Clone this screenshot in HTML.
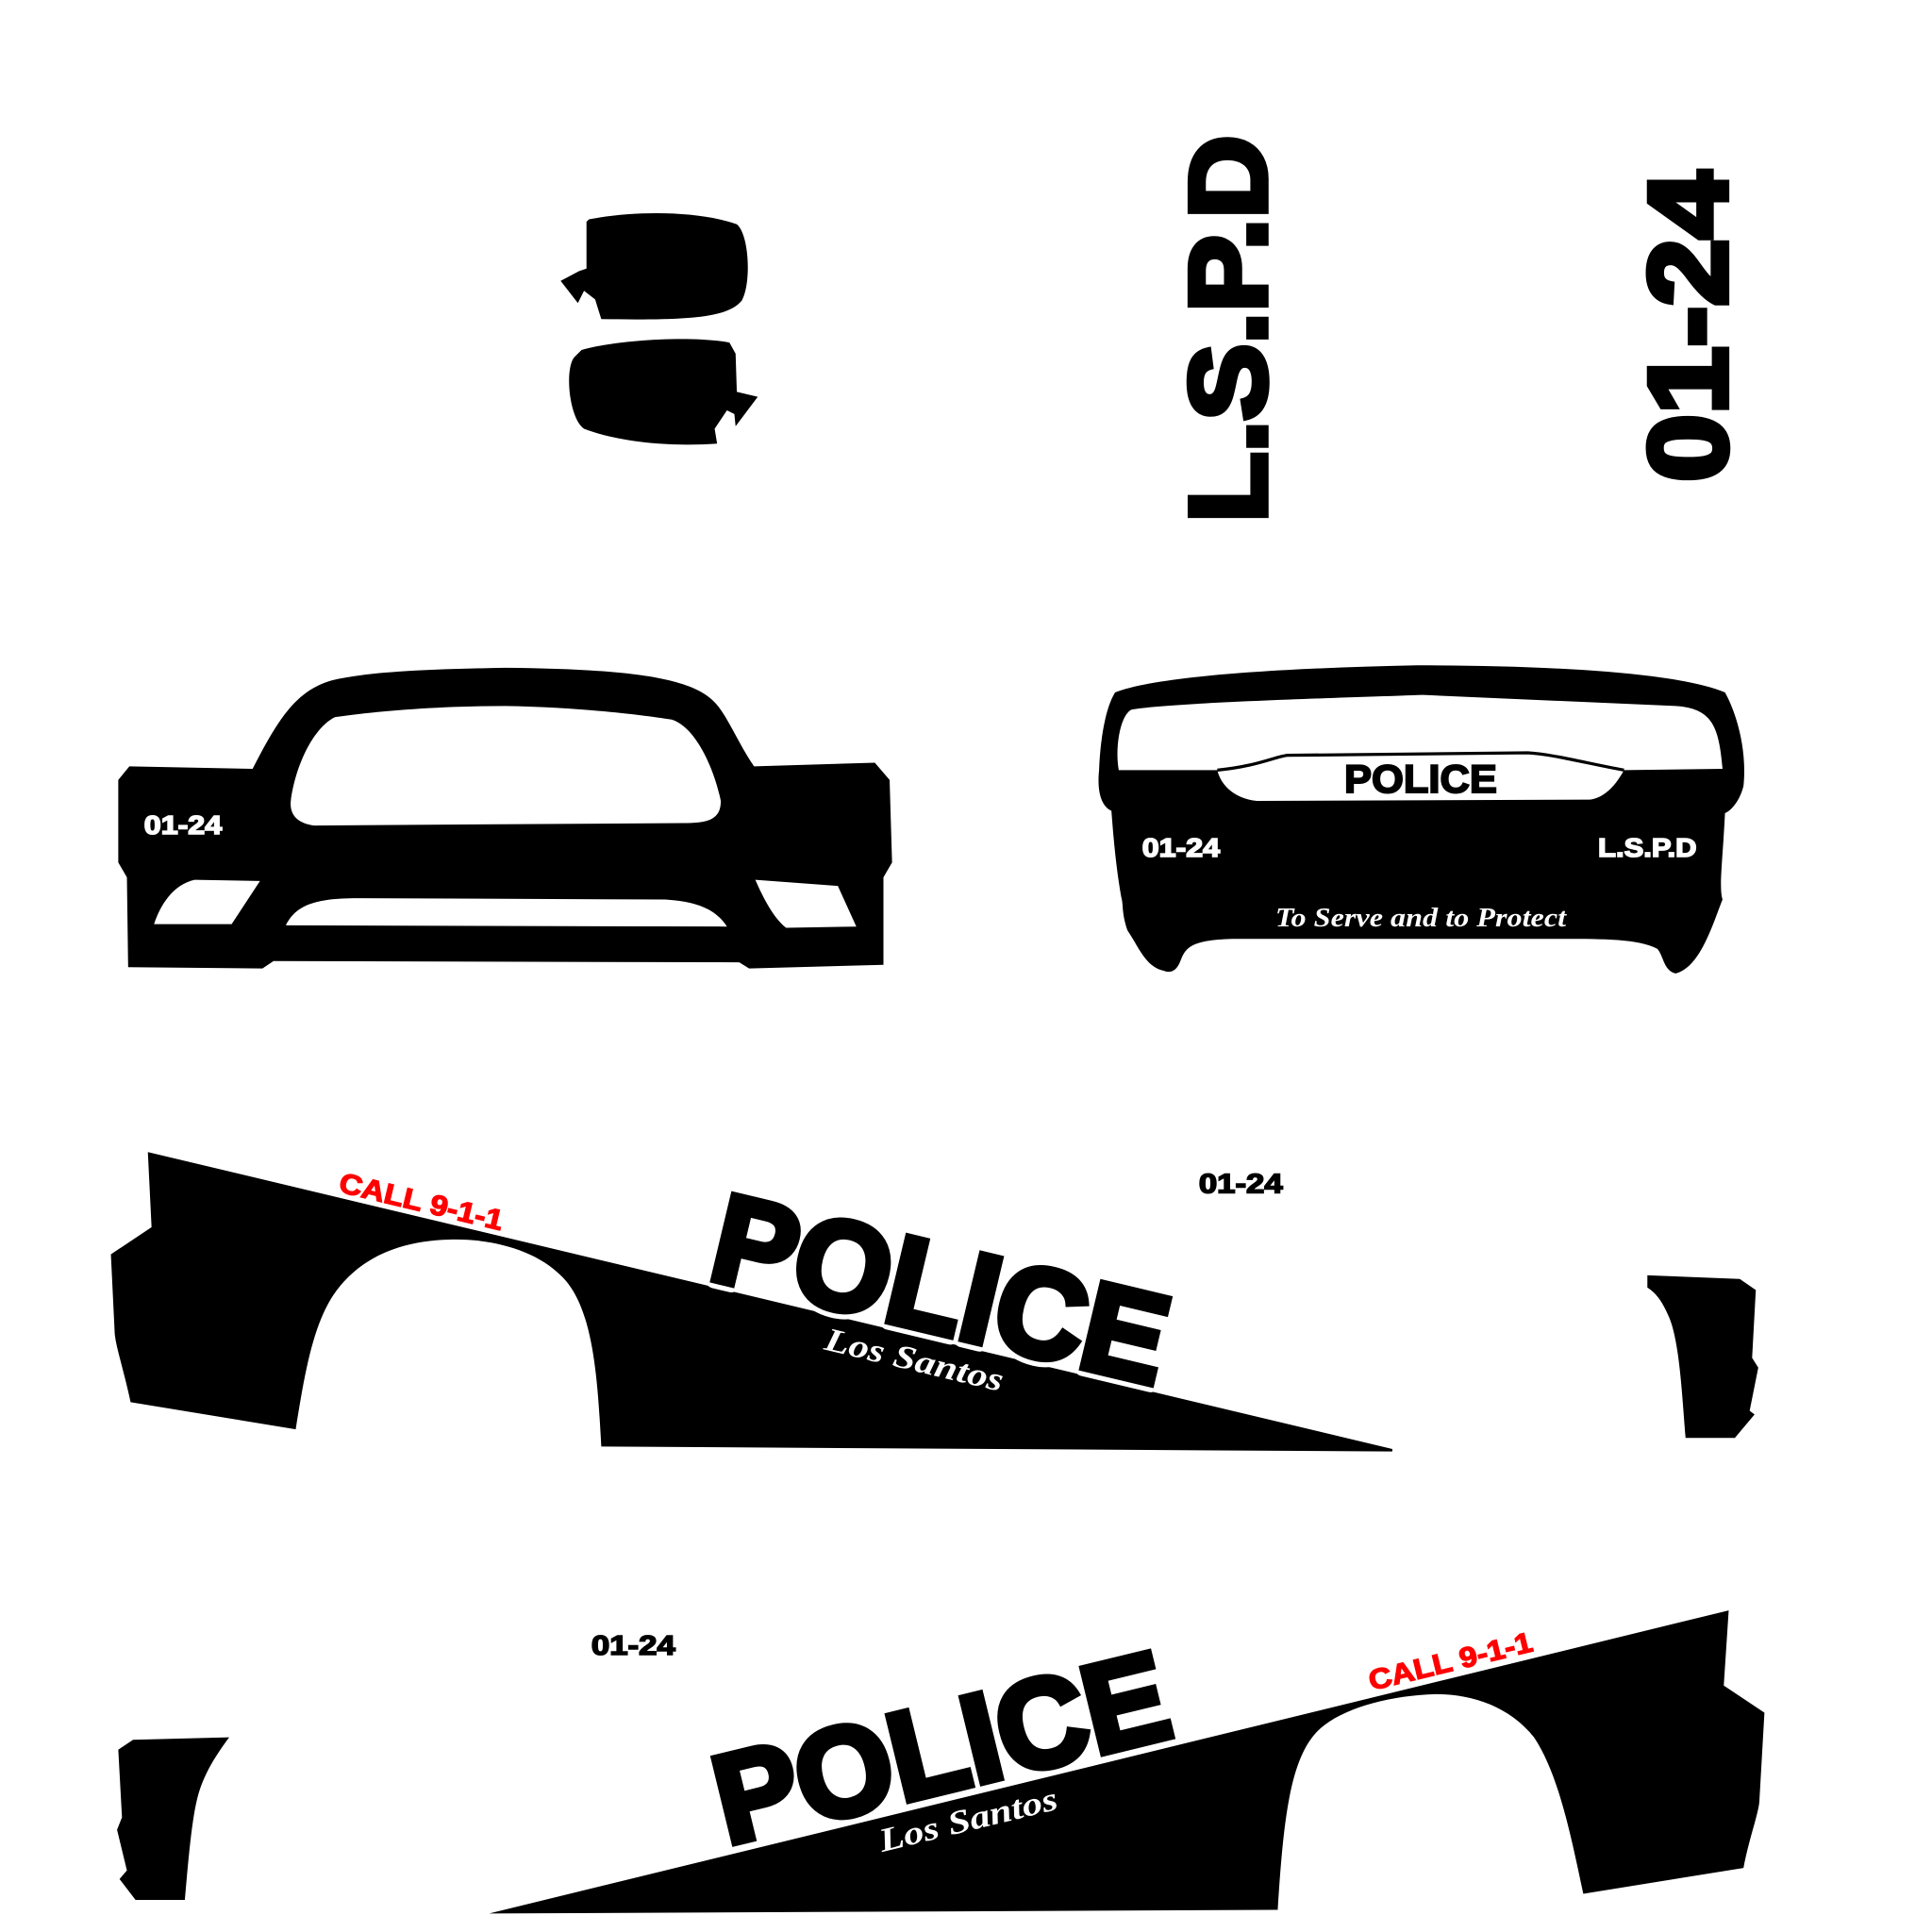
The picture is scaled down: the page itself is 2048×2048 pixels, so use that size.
<!DOCTYPE html>
<html><head><meta charset="utf-8"><style>html,body{margin:0;padding:0;background:#fff}svg{display:block}</style></head>
<body>
<svg width="2048" height="2048" viewBox="0 0 1568 1568" xmlns="http://www.w3.org/2000/svg">
<rect width="1568" height="1568" fill="#fff"/>
<path d="M476,180 L478,178 C520,170 570,172 598,182 C608,190 610,230 602,244 C590,258 560,260 488,259 L483,243 L474,236 L469,246 L455,228 L470,220 L476,218 Z" fill="#000"/>
<path d="M472,284 C500,276 560,272 592,278 L597,287 L598,318 L615,322 L597,346 L596,336 L590,333 L580,348 L582,360 C540,363 500,358 474,348 C462,340 458,300 466,290 Z" fill="#000"/>
<g font-family="Liberation Sans, Arial, sans-serif" font-weight="bold" stroke="#000" stroke-width="5" stroke-linejoin="miter">
<text transform="translate(1027,424) rotate(-90)" font-size="88" textLength="314" lengthAdjust="spacingAndGlyphs">L.S.P.D</text>
<text transform="translate(1401,391) rotate(-90)" font-size="90" textLength="252" lengthAdjust="spacingAndGlyphs">01-24</text>
</g>
<path fill="#000" fill-rule="evenodd" d="M96,633 L105,622 L205,624 C225,585 240,560 270,552 C300,545 350,543 410,542 C500,543 560,548 580,570 C590,580 600,605 612,622 L710,619 L722,633 L724,700 L717,712 L717,783 L608,786 L600,781 L222,780 L213,786 L104,785 L103,712 L96,700 Z
M236,650 C240,620 255,590 272,582 C300,578 350,573 410,573 C470,574 520,580 545,584 C565,590 580,625 585,650 C585,665 575,668 555,668 L255,670 C240,668 235,660 236,650 Z
M125,750 C130,735 140,718 158,714 L211,715 L188,750 Z
M613,714 L680,719 L695,752 L638,753 C628,745 620,730 613,714 Z
M232,751 C240,735 255,729 290,729 L540,730 C570,732 582,740 590,752 Z"/>
<text x="117" y="677" font-family="Liberation Sans, Arial, sans-serif" font-weight="bold" font-size="21" fill="#fff" stroke="#fff" stroke-width="1.2" textLength="63" lengthAdjust="spacingAndGlyphs">01-24</text>
<path fill="#000" d="M905,562 C940,548 1050,542 1150,540 C1250,540 1360,545 1400,562 C1410,580 1418,610 1415,638 C1412,650 1405,658 1400,660 C1398,700 1395,720 1398,730 C1390,750 1380,785 1360,790 C1350,788 1350,775 1345,770 C1330,762 1300,762 1270,762 L1000,762 C965,763 962,770 958,780 C955,788 950,790 945,788 C930,785 925,770 915,755 C910,740 912,735 910,728 C905,700 903,670 902,658 C895,655 890,645 892,625 C893,600 897,575 905,562 Z"/>
<path fill="#fff" d="M908,625 C905,610 908,582 918,576 C950,570 1100,566 1155,564 L1360,573 C1390,575 1395,590 1398,624 L1318,625 C1310,640 1300,648 1290,649 L1020,650 C1000,648 990,635 988,625 Z"/>
<path d="M988,625 C1020,622 1035,614 1045,613 L1240,611 C1260,612 1290,620 1318,625" fill="none" stroke="#000" stroke-width="2.5"/>
<g font-family="Liberation Sans, Arial, sans-serif" font-weight="bold">
<text x="1091" y="643" font-size="32" fill="#000" stroke="#000" stroke-width="1.5" textLength="124" lengthAdjust="spacingAndGlyphs">POLICE</text>
<text x="927" y="695" font-size="21" fill="#fff" stroke="#fff" stroke-width="1.2" textLength="63" lengthAdjust="spacingAndGlyphs">01-24</text>
<text x="1297" y="695" font-size="21" fill="#fff" stroke="#fff" stroke-width="1.2" textLength="80" lengthAdjust="spacingAndGlyphs">L.S.P.D</text>
</g>
<text x="1153" y="752" text-anchor="middle" font-family="Liberation Serif, serif" font-style="italic" font-weight="bold" font-size="22" fill="#fff" textLength="236" lengthAdjust="spacingAndGlyphs">To Serve and to Protect</text>
<path fill="#000" d="M120,935 L1130,1176 L1130,1178 L488,1174 C485,1120 482,1060 455,1035 C435,1015 400,1005 365,1006 C325,1007 295,1020 275,1045 C255,1070 248,1110 240,1160 L106,1138 C100,1110 93,1090 93,1080 L90,1018 L123,996 Z"/>
<path fill="#000" d="M1337,1035 L1412,1038 L1425,1047 L1422,1102 L1427,1110 L1420,1145 L1424,1148 L1408,1167 L1368,1167 C1365,1130 1363,1090 1355,1070 C1350,1058 1345,1050 1337,1045 Z"/>
<g font-family="Liberation Sans, Arial, sans-serif" font-weight="bold">
<text transform="translate(274,967) rotate(13.4)" font-size="23" fill="#f00" stroke="#f00" stroke-width="1" textLength="136" lengthAdjust="spacingAndGlyphs">CALL 9-1-1</text>
<text transform="translate(573,1037) rotate(13.4)" font-size="102" fill="#fff" stroke="#fff" stroke-width="14" stroke-linejoin="round" textLength="375" lengthAdjust="spacingAndGlyphs">POLICE</text>
<text transform="translate(573,1037) rotate(13.4)" font-size="102" fill="#000" stroke="#000" stroke-width="6" stroke-linejoin="miter" textLength="375" lengthAdjust="spacingAndGlyphs">POLICE</text>
<text x="973" y="968" font-size="22" fill="#000" stroke="#000" stroke-width="1.2" textLength="68" lengthAdjust="spacingAndGlyphs">01-24</text>
</g>
<text transform="translate(668,1095) rotate(13.4)" font-family="Liberation Serif, serif" font-style="italic" font-weight="bold" font-size="27" fill="#fff" textLength="148" lengthAdjust="spacingAndGlyphs">Los Santos</text>
<path fill="#000" d="M397,1553 L1403,1307 L1399,1368 L1432,1390 L1428,1460 C1428,1470 1420,1490 1415,1516 L1285,1537 C1275,1490 1265,1440 1245,1410 C1225,1385 1195,1375 1165,1375 C1130,1376 1095,1385 1075,1400 C1048,1420 1042,1470 1037,1550 Z"/>
<path fill="#000" d="M108,1412 L186,1410 C175,1425 165,1440 160,1460 C155,1480 152,1520 150,1542 L110,1542 L97,1525 L103,1518 L95,1485 L99,1475 L96,1420 Z"/>
<g font-family="Liberation Sans, Arial, sans-serif" font-weight="bold">
<text transform="translate(1113,1372) rotate(-13.7)" font-size="23" fill="#f00" stroke="#f00" stroke-width="1" textLength="136" lengthAdjust="spacingAndGlyphs">CALL 9-1-1</text>
<text transform="translate(590,1497) rotate(-13.7)" font-size="102" fill="#fff" stroke="#fff" stroke-width="14" stroke-linejoin="round" textLength="375" lengthAdjust="spacingAndGlyphs">POLICE</text>
<text transform="translate(590,1497) rotate(-13.7)" font-size="102" fill="#000" stroke="#000" stroke-width="6" stroke-linejoin="miter" textLength="375" lengthAdjust="spacingAndGlyphs">POLICE</text>
<text x="480" y="1343" font-size="22" fill="#000" stroke="#000" stroke-width="1.2" textLength="68" lengthAdjust="spacingAndGlyphs">01-24</text>
</g>
<text transform="translate(716,1503) rotate(-13.7)" font-family="Liberation Serif, serif" font-style="italic" font-weight="bold" font-size="27" fill="#fff" textLength="148" lengthAdjust="spacingAndGlyphs">Los Santos</text>
</svg>
</body></html>
